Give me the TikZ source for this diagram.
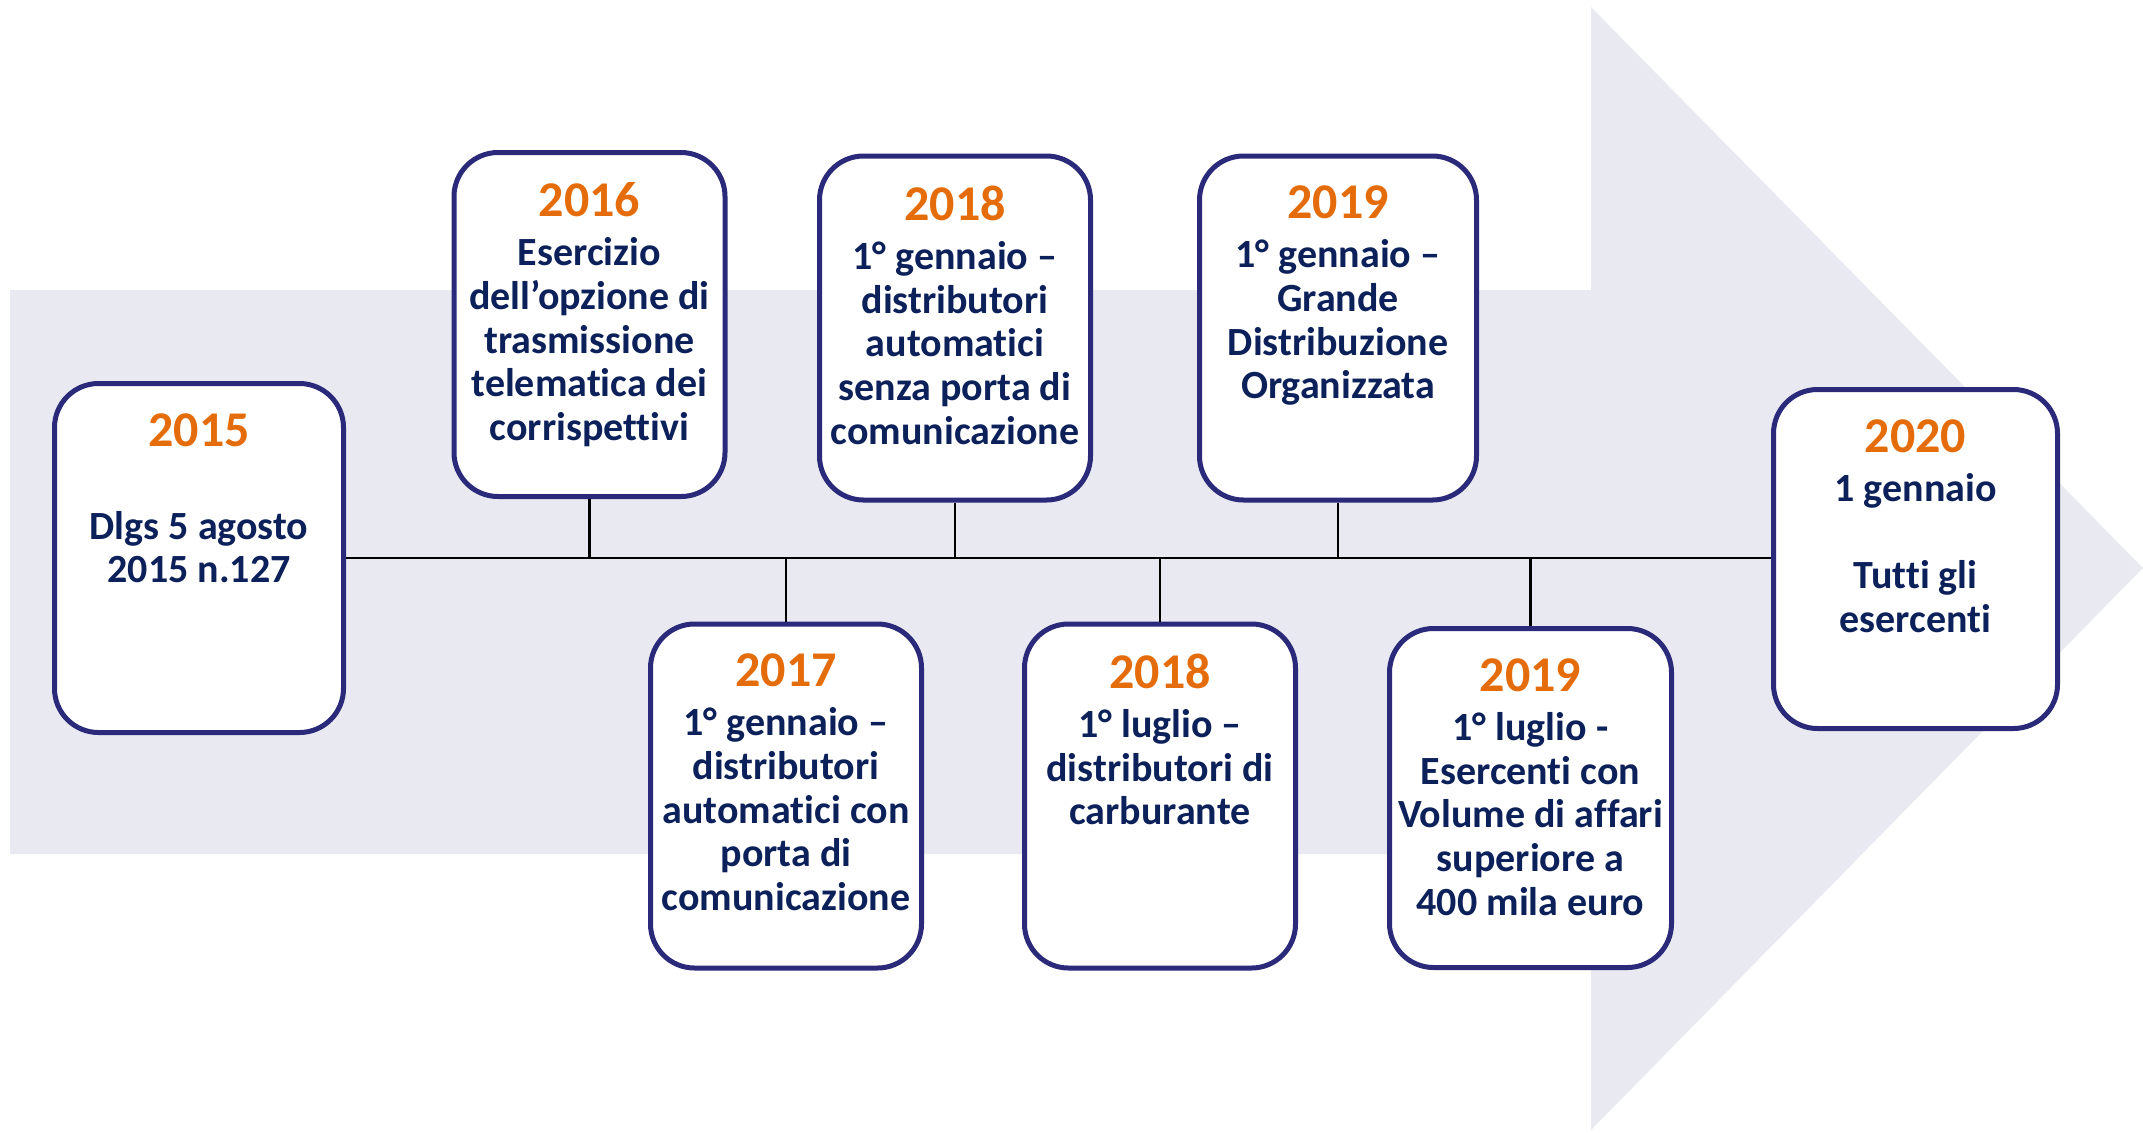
\documentclass[tikz,border=0pt]{standalone}
\usepackage{fontspec}
\setmainfont{Carlito}[Ligatures=NoCommon]
\usepackage{xcolor}
\definecolor{arrowgray}{RGB}{233,234,241}
\definecolor{boxblue}{RGB}{43,42,122}
\definecolor{textblue}{RGB}{12,32,90}
\definecolor{yearorange}{RGB}{228,108,10}
\tikzset{
  event/.style={draw=boxblue,line width=2.5pt,fill=white,rounded corners=22pt,inner sep=0pt,
    minimum width=135.5pt,minimum height=172pt},
  eventtext/.style={anchor=north,align=center,inner sep=0pt,text=textblue,
    font=\bfseries\fontsize{20pt}{21.85pt}\selectfont},
  stem/.style={line width=1.2pt}
}
\newcommand{\yr}[1]{{\color{yearorange}\fontsize{25pt}{26pt}\selectfont #1}\\[2.7pt]}

\begin{document}
\begin{tikzpicture}[x=0.5pt,y=-0.5pt]
  \useasboundingbox (0,0) rectangle (2143,1132);
  % big arrow in the background
  \fill[arrowgray] (10,290) -- (1591,290) -- (1591,7) -- (2143,568) -- (1591,1130) -- (1591,854) -- (10,854) -- cycle;
  % 2015
  \node[event,minimum width=144.5pt,minimum height=174.5pt] (b2015) at (199,558) {};
  \node[eventtext] (t2015) at ([yshift=-16pt]b2015.north) {\yr{2015}\\Dlgs 5 agosto\\2015 n.127};
  % 2016
  \node[event] (b2016) at (589.5,324.5) {};
  \node[eventtext] (t2016) at ([yshift=-16pt]b2016.north) {\yr{2016}Esercizio\\dell’opzione di\\trasmissione\\telematica dei\\corrispettivi};
  % 2017
  \node[event] (b2017) at (786,796) {};
  \node[eventtext] (t2017) at ([yshift=-16pt]b2017.north) {\yr{2017}1° gennaio –\\distributori\\automatici con\\porta di\\comunicazione};
  % 2018 gennaio
  \node[event] (b2018a) at (955,328) {};
  \node[eventtext] (t2018a) at ([yshift=-16pt]b2018a.north) {\yr{2018}1° gennaio –\\distributori\\automatici\\senza porta di\\comunicazione};
  % 2018 luglio
  \node[event] (b2018b) at (1160,796) {};
  \node[eventtext] (t2018b) at ([yshift=-16pt]b2018b.north) {\yr{2018}1° luglio –\\distributori di\\carburante};
  % 2019 gennaio
  \node[event,minimum width=138.5pt] (b2019a) at (1338,328) {};
  \node[eventtext] (t2019a) at ([yshift=-16pt]b2019a.north) {\yr{2019}1° gennaio –\\Grande\\Distribuzione\\Organizzata};
  % 2019 luglio
  \node[event,minimum width=141pt,minimum height=169.5pt] (b2019b) at (1530.5,798) {};
  \node[eventtext] (t2019b) at ([yshift=-16pt]b2019b.north) {\yr{2019}1° luglio -\\Esercenti con\\Volume di affari\\superiore a\\400 mila euro};
  % 2020
  \node[event,minimum width=142pt,minimum height=169.5pt] (b2020) at (1915.5,559) {};
  \node[eventtext] (t2020) at ([yshift=-16pt]b2020.north) {\yr{2020}1 gennaio\\\\Tutti gli\\esercenti};
  % time line and stems
  \draw[line width=1pt] (b2015.east) -- (b2015.east -| b2020.west);
  \foreach \b in {b2016,b2018a,b2019a} \draw[stem] (\b.south) -- (\b.south |- b2015.east);
  \foreach \b in {b2017,b2018b,b2019b} \draw[stem] (\b.north) -- (\b.north |- b2015.east);
\end{tikzpicture}
\end{document}
